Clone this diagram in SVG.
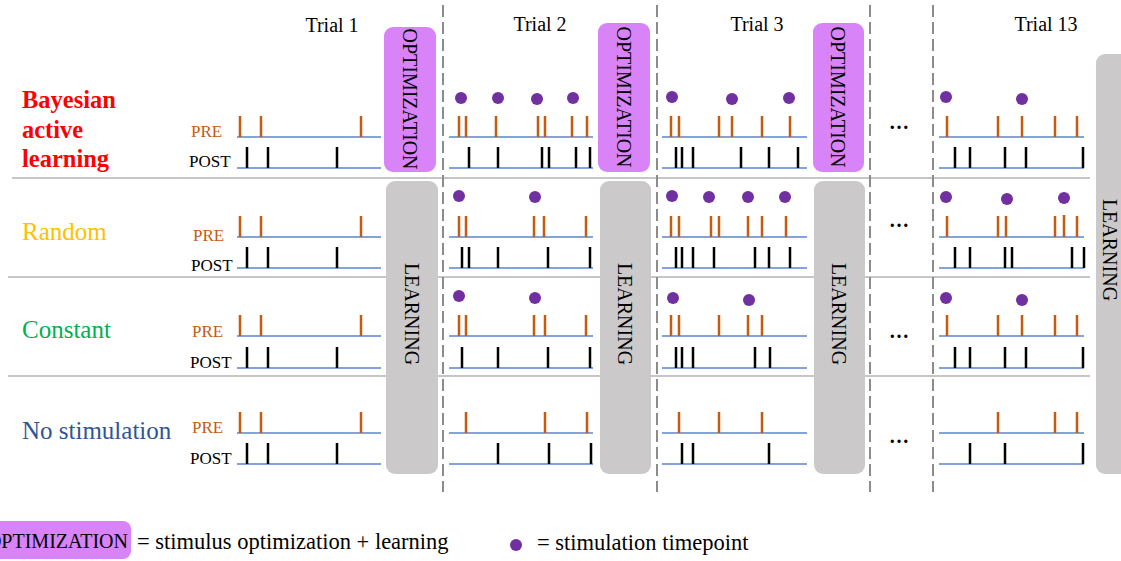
<svg xmlns="http://www.w3.org/2000/svg" width="1121" height="561" viewBox="0 0 1121 561">
<style>
.serif{font-family:"Liberation Serif","Times New Roman",serif}
.lbl{font-family:"Liberation Serif","Times New Roman",serif;font-size:25px}
.lblb{font-family:"Liberation Serif","Times New Roman",serif;font-size:24.5px;font-weight:bold;fill:#ff0000}
.trial{font-family:"Liberation Serif","Times New Roman",serif;font-size:20px;fill:#000;text-anchor:middle}
.pre{font-family:"Liberation Serif","Times New Roman",serif;font-size:17px;fill:#c55a11}
.post{font-family:"Liberation Serif","Times New Roman",serif;font-size:17px;fill:#000}
.box-opt{fill:#d884f8}
.box-learn{fill:#cbc9c9}
.vtext{font-family:"Liberation Serif","Times New Roman",serif;font-size:20px;fill:#000;text-anchor:middle;dominant-baseline:central}
.base{stroke:#5a85d0;stroke-width:1.5;fill:none}
.sp-pre{stroke:#c55a11;stroke-width:2.5;fill:none}
.sp-post{stroke:#000;stroke-width:2.5;fill:none}
.dot{fill:#7030a0}
.rowline{stroke:#b3b3b3;stroke-width:1.5}
.dash{stroke:#8c8c8c;stroke-width:2;stroke-dasharray:12 5;fill:none}
.ell{font-family:"Liberation Serif","Times New Roman",serif;font-size:20px;font-weight:bold;fill:#000;text-anchor:middle}
</style>

<g id="separators">
<line class="rowline" x1="12" y1="178" x2="1090" y2="178"/>
<line class="rowline" x1="8" y1="277" x2="1090" y2="277"/>
<line class="rowline" x1="8" y1="376" x2="1090" y2="376"/>
<line class="dash" x1="443" y1="5" x2="443" y2="492"/>
<line class="dash" x1="657" y1="5" x2="657" y2="492"/>
<line class="dash" x1="870" y1="5" x2="870" y2="492"/>
<line class="dash" x1="933" y1="5" x2="933" y2="492"/>
</g>

<g id="trial-labels">
<text class="trial" x="332" y="32">Trial 1</text>
<text class="trial" x="540" y="31">Trial 2</text>
<text class="trial" x="757" y="31">Trial 3</text>
<text class="trial" x="1046" y="31">Trial 13</text>
</g>

<g id="row-labels">
<text class="lblb" x="22" y="108">Bayesian</text>
<text class="lblb" x="22" y="138">active</text>
<text class="lblb" x="22" y="167">learning</text>
<text class="lbl" x="22" y="240" fill="#ffc000">Random</text>
<text class="lbl" x="22" y="338" fill="#00b050">Constant</text>
<text class="lbl" x="22" y="439" fill="#2f5597">No stimulation</text>
<text class="pre" x="191" y="137">PRE</text>
<text class="post" x="189" y="167">POST</text>
<text class="pre" x="193" y="241">PRE</text>
<text class="post" x="191" y="271">POST</text>
<text class="pre" x="192" y="337">PRE</text>
<text class="post" x="190" y="368">POST</text>
<text class="pre" x="192" y="433">PRE</text>
<text class="post" x="190" y="464">POST</text>
</g>

<g id="baselines">
<path class="base" d="M237 137H381M237 168H381M237 237H381M237 268H381M237 336H381M237 368H381M237 433H381M237 464H381"/>
<path class="base" d="M449 137H593M449 168H593M449 237H593M449 268H593M449 336H593M449 368H593M449 433H593M449 464H593"/>
<path class="base" d="M662 137H807M662 168H807M662 237H807M662 268H807M662 336H807M662 368H807M662 433H807M662 464H807"/>
<path class="base" d="M939 137H1084M939 168H1084M939 237H1084M939 268H1084M939 336H1084M939 368H1084M939 433H1084M939 464H1084"/>
</g>

<g id="trial1-spikes">
<path class="sp-pre" d="M240 137v-21M261 137v-21M361 137v-21M240 237v-21M261 237v-21M361 237v-21M240 336v-21M261 336v-21M361 336v-21M240 433v-21M261 433v-21M361 433v-21"/>
<path class="sp-post" d="M247 168v-21M268 168v-21M337 168v-21M247 268v-21M268 268v-21M337 268v-21M247 368v-21M268 368v-21M337 368v-21M247 464v-21M268 464v-21M337 464v-21"/>
</g>

<g id="trial2-spikes">
<path class="sp-pre" d="M459 137v-21M466 137v-21M496 137v-21M538 137v-21M545 137v-21M572 137v-21M587 137v-21
M459 237v-21M466 237v-21M534 237v-21M544 237v-21M586 237v-21
M459 336v-21M466 336v-21M534 336v-21M545 336v-21M586 336v-21
M466 433v-21M545 433v-21M587 433v-21"/>
<path class="sp-post" d="M469 168v-21M498 168v-21M542 168v-21M549 168v-21M576 168v-21M590 168v-21
M462 268v-21M469 268v-21M498 268v-21M548 268v-21M590 268v-21
M462 368v-21M498 368v-21M548 368v-21M590 368v-21
M498 464v-21M549 464v-21M591 464v-21"/>
<circle class="dot" cx="461" cy="98" r="6"/><circle class="dot" cx="498" cy="98" r="6"/><circle class="dot" cx="537" cy="99" r="6"/><circle class="dot" cx="573" cy="98" r="6"/>
<circle class="dot" cx="459" cy="196" r="6"/><circle class="dot" cx="535" cy="197" r="6"/>
<circle class="dot" cx="459" cy="296" r="6"/><circle class="dot" cx="535" cy="298" r="6"/>
</g>

<g id="trial3-spikes">
<path class="sp-pre" d="M671 137v-21M679 137v-21M719 137v-21M732 137v-21M762 137v-21M790 137v-21
M671 237v-21M679 237v-21M711 237v-21M719 237v-21M748 237v-21M762 237v-21M786 237v-21
M671 336v-21M679 336v-21M719 336v-21M748 336v-21M762 336v-21
M679 433v-21M719 433v-21M762 433v-21"/>
<path class="sp-post" d="M676 168v-21M682 168v-21M693 168v-21M741 168v-21M769 168v-21M798 168v-21
M676 268v-21M682 268v-21M693 268v-21M714 268v-21M755 268v-21M769 268v-21M790 268v-21
M676 368v-21M682 368v-21M693 368v-21M755 368v-21M770 368v-21
M682 464v-21M693 464v-21M769 464v-21"/>
<circle class="dot" cx="672" cy="97" r="6"/><circle class="dot" cx="732" cy="99" r="6"/><circle class="dot" cx="789" cy="98" r="6"/>
<circle class="dot" cx="672" cy="196" r="6"/><circle class="dot" cx="709" cy="197" r="6"/><circle class="dot" cx="748" cy="197" r="6"/><circle class="dot" cx="785" cy="197" r="6"/>
<circle class="dot" cx="673" cy="298" r="6"/><circle class="dot" cx="749" cy="300" r="6"/>
</g>

<g id="trial13-spikes">
<path class="sp-pre" d="M947 137v-21M998 137v-21M1022 137v-21M1055 137v-21M1077 137v-21
M947 237v-21M998 237v-21M1006 237v-21M1055 237v-21M1064 237v-22M1077 237v-21
M947 336v-21M998 336v-21M1022 336v-21M1055 336v-21M1077 336v-21
M998 433v-21M1055 433v-21M1077 433v-21"/>
<path class="sp-post" d="M955 168v-21M970 168v-21M1005 168v-21M1026 168v-21M1083 168v-21
M955 268v-21M970 268v-21M1005 268v-21M1012 268v-21M1072 268v-21M1084 268v-21
M955 368v-21M970 368v-21M1005 368v-21M1026 368v-21M1083 368v-21
M970 464v-21M1005 464v-21M1083 464v-21"/>
<circle class="dot" cx="946" cy="97" r="6"/><circle class="dot" cx="1022" cy="99" r="6"/>
<circle class="dot" cx="946" cy="197" r="6"/><circle class="dot" cx="1007" cy="199" r="6"/><circle class="dot" cx="1064" cy="198" r="6"/>
<circle class="dot" cx="946" cy="298" r="6"/><circle class="dot" cx="1022" cy="300" r="6"/>
</g>

<g id="ellipses">
<text class="ell" x="899" y="129">…</text>
<text class="ell" x="899" y="227">…</text>
<text class="ell" x="899" y="338">…</text>
<text class="ell" x="899" y="443">…</text>
</g>

<g id="opt1"><rect class="box-opt" x="384" y="27" width="52" height="145" rx="9"/><text class="vtext" transform="translate(410,99) rotate(90)">OPTIMIZATION</text></g>
<g id="opt2"><rect class="box-opt" x="598" y="23" width="52" height="149" rx="9"/><text class="vtext" transform="translate(624,97) rotate(90)">OPTIMIZATION</text></g>
<g id="opt3"><rect class="box-opt" x="813" y="23" width="51" height="149" rx="9"/><text class="vtext" transform="translate(838,97) rotate(90)">OPTIMIZATION</text></g>

<g id="learn1"><rect class="box-learn" x="386" y="181" width="52" height="293" rx="9"/><text class="vtext" transform="translate(412,314) rotate(90)">LEARNING</text></g>
<g id="learn2"><rect class="box-learn" x="600" y="181" width="51" height="293" rx="9"/><text class="vtext" transform="translate(625,314) rotate(90)">LEARNING</text></g>
<g id="learn3"><rect class="box-learn" x="814" y="181" width="51" height="293" rx="9"/><text class="vtext" transform="translate(839,314) rotate(90)">LEARNING</text></g>
<g id="learn4"><rect class="box-learn" x="1096" y="54" width="45" height="420" rx="9"/><text class="vtext" transform="translate(1110,250) rotate(90)">LEARNING</text></g>

<g id="legend">
<rect class="box-opt" x="-20" y="521" width="151" height="38" rx="8"/>
<text class="serif" x="128" y="548" font-size="20" text-anchor="end">OPTIMIZATION</text>
<text class="serif" x="137" y="549" font-size="22.5">= stimulus optimization + learning</text>
<circle class="dot" cx="516" cy="545" r="6"/>
<text class="serif" x="537" y="550" font-size="22.5">= stimulation timepoint</text>
</g>
</svg>
